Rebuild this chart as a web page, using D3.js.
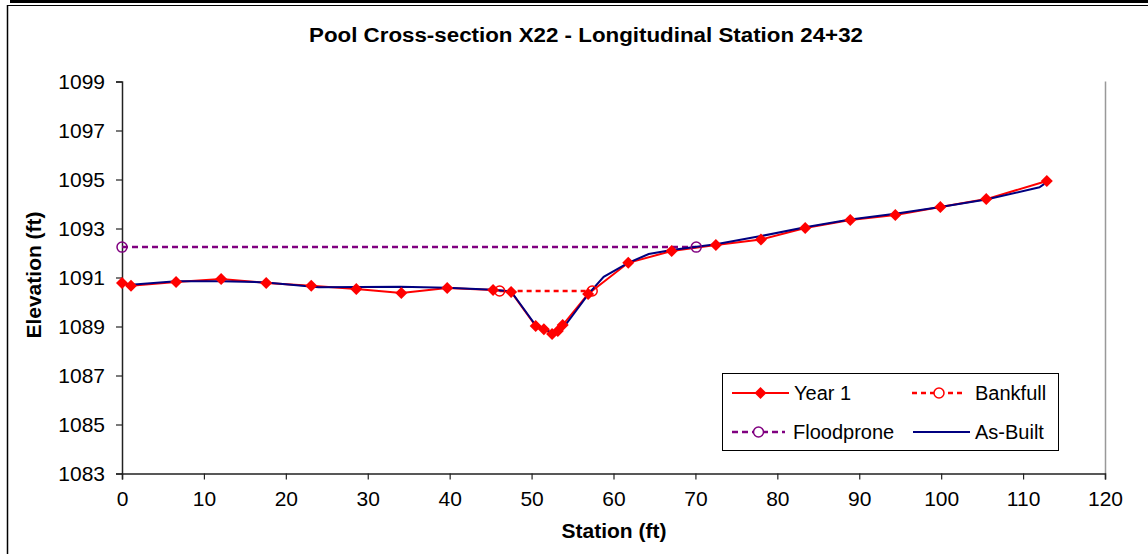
<!DOCTYPE html>
<html>
<head>
<meta charset="utf-8">
<script src="https://cdn.jsdelivr.net/npm/d3@7/dist/d3.min.js"></script>
<style>
  html, body { margin: 0; padding: 0; background: #fff; }
  svg { display: block; font-family: "Liberation Sans", Arial, sans-serif; }
</style>
</head>
<body>
<svg id="chart" width="1148" height="554"></svg>
<script>
// ---- data ----
const titleText = "Pool Cross-section X22 - Longitudinal Station 24+32";
const xTitle = "Station (ft)";
const yTitle = "Elevation (ft)";
const xTicks = [0, 10, 20, 30, 40, 50, 60, 70, 80, 90, 100, 110, 120];
const yTicks = [1083, 1085, 1087, 1089, 1091, 1093, 1095, 1097, 1099];

const year1Station = [0, 1.1, 6.6, 12.1, 17.6, 23.1, 28.6, 34.1, 39.7, 45.3, 47.5, 50.5, 51.5, 52.5, 53.2, 53.8, 56.9, 61.8, 67.1, 72.5, 78.0, 83.4, 88.9, 94.4, 99.9, 105.5, 112.9];
const year1Elev = [1090.78, 1090.66, 1090.82, 1090.94, 1090.78, 1090.66, 1090.53, 1090.37, 1090.57, 1090.49, 1090.41, 1089.02, 1088.89, 1088.69, 1088.82, 1089.06, 1090.33, 1091.6, 1092.08, 1092.33, 1092.55, 1093.02, 1093.35, 1093.55, 1093.88, 1094.2, 1094.94];

const asBuiltStation = [0, 1.1, 6.6, 12.1, 17.6, 24.0, 34.0, 39.7, 45.3, 47.5, 50.5, 52.5, 54.0, 57.0, 58.8, 61.8, 64.3, 67.1, 72.5, 78.0, 83.4, 88.9, 94.4, 99.9, 105.5, 112.0, 112.6];
const asBuiltElev = [1090.78, 1090.7, 1090.85, 1090.85, 1090.8, 1090.6, 1090.62, 1090.58, 1090.5, 1090.43, 1089.05, 1088.75, 1089.0, 1090.35, 1091.03, 1091.6, 1091.96, 1092.12, 1092.36, 1092.69, 1093.05, 1093.37, 1093.6, 1093.88, 1094.18, 1094.68, 1094.82];

const bankfullStation = [46.1, 57.4];
const bankfullElev = [1090.45, 1090.45];

const floodproneStation = [0, 70.1];
const floodproneElev = [1092.24, 1092.24];

const legendLabels = ["Year 1", "Bankfull", "Floodprone", "As-Built"];

// ---- colours ----
const RED = "#FF0000", NAVY = "#000080", PURPLE = "#800080";

const svg = d3.select("#chart");
const x = d3.scaleLinear().domain([0, 120]).range([122, 1105]);
const y = d3.scaleLinear().domain([1083, 1099]).range([473.5, 81.5]);

// outer frame
svg.append("rect").attr("x", 10).attr("y", 0).attr("width", 1138).attr("height", 3).attr("fill", "#000");
svg.append("line").attr("x1", 7).attr("x2", 1148).attr("y1", 5.5).attr("y2", 5.5).attr("stroke", "#000").attr("stroke-width", 1.2);
svg.append("line").attr("x1", 7.5).attr("x2", 7.5).attr("y1", 5).attr("y2", 554).attr("stroke", "#000").attr("stroke-width", 1.5);

// plot area right border
svg.append("line").attr("x1", 1105.5).attr("x2", 1105.5).attr("y1", y(1099)).attr("y2", y(1083))
  .attr("stroke", "#999").attr("stroke-width", 1.5);

// title
svg.append("text").attr("x", 586).attr("y", 42).attr("text-anchor", "middle")
  .attr("font-size", 20).attr("font-weight", "bold").attr("textLength", 554).attr("lengthAdjust", "spacingAndGlyphs")
  .text(titleText);

// axes
const yAxis = d3.axisLeft(y).tickValues(yTicks).tickSize(6).tickPadding(11).tickFormat(d3.format("d"));
const gy = svg.append("g").attr("transform", `translate(${x(0)},0)`).call(yAxis);
const xAxis = d3.axisBottom(x).tickValues(xTicks).tickSize(6).tickPadding(12).tickFormat(d3.format("d"));
const gx = svg.append("g").attr("transform", `translate(0,${y(1083)})`).call(xAxis);
[gy, gx].forEach(g => {
  g.select(".domain").attr("stroke", "#222").attr("stroke-width", 1.5);
  g.selectAll(".tick line").attr("stroke", "#222").attr("stroke-width", 1.2);
  g.selectAll("text").attr("font-size", 21).attr("fill", "#000").attr("font-family", "'Liberation Sans', Arial, sans-serif");
});

// axis titles
svg.append("text").attr("x", 614).attr("y", 538).attr("text-anchor", "middle")
  .attr("font-size", 21).attr("font-weight", "bold").text(xTitle);
svg.append("text").attr("transform", "translate(41,275) rotate(-90)").attr("text-anchor", "middle")
  .attr("font-size", 21).attr("font-weight", "bold").text(yTitle);

// series
const zip = (a, b) => a.map((v, i) => [v, b[i]]);
const line = d3.line().x(d => x(d[0])).y(d => y(d[1]));
const year1 = zip(year1Station, year1Elev);
const asBuilt = zip(asBuiltStation, asBuiltElev);
const bankfull = zip(bankfullStation, bankfullElev);
const flood = zip(floodproneStation, floodproneElev);

svg.append("path").datum(year1).attr("d", line).attr("fill", "none").attr("stroke", RED).attr("stroke-width", 2);
svg.append("path").datum(bankfull).attr("d", line).attr("fill", "none").attr("stroke", RED).attr("stroke-width", 2.5).attr("stroke-dasharray", "5,4");
svg.append("path").datum(flood).attr("d", line).attr("fill", "none").attr("stroke", PURPLE).attr("stroke-width", 2.5).attr("stroke-dasharray", "6,4");
svg.append("path").datum(asBuilt).attr("d", line).attr("fill", "none").attr("stroke", NAVY).attr("stroke-width", 2);

const diamond = (cx, cy, r) => `M${cx},${cy - r}L${cx + r},${cy}L${cx},${cy + r}L${cx - r},${cy}Z`;
svg.append("g").selectAll("path").data(year1).join("path")
  .attr("d", d => diamond(x(d[0]), y(d[1]), 6)).attr("fill", RED);
svg.append("g").selectAll("circle").data(bankfull).join("circle")
  .attr("cx", d => x(d[0])).attr("cy", d => y(d[1])).attr("r", 5)
  .attr("fill", "none").attr("stroke", RED).attr("stroke-width", 1.5);
svg.append("g").selectAll("circle").data(flood).join("circle")
  .attr("cx", d => x(d[0])).attr("cy", d => y(d[1])).attr("r", 5)
  .attr("fill", "none").attr("stroke", PURPLE).attr("stroke-width", 1.5);

// legend
const lg = svg.append("g");
lg.append("rect").attr("x", 722.5).attr("y", 373.5).attr("width", 336).attr("height", 77)
  .attr("fill", "#fff").attr("stroke", "#000").attr("stroke-width", 1);
const items = [
  {label: legendLabels[0], x0: 732, x1: 789, y: 393, color: RED, dash: null, marker: "diamond", tx: 794},
  {label: legendLabels[1], x0: 912, x1: 966, y: 393, color: RED, dash: "5,4", marker: "circle", tx: 975},
  {label: legendLabels[2], x0: 732, x1: 785, y: 432, color: PURPLE, dash: "6,4", marker: "circle", tx: 793},
  {label: legendLabels[3], x0: 913, x1: 970, y: 432, color: NAVY, dash: null, marker: null, tx: 975}
];
items.forEach(it => {
  const ln = lg.append("line").attr("x1", it.x0).attr("x2", it.x1).attr("y1", it.y).attr("y2", it.y)
    .attr("stroke", it.color).attr("stroke-width", it.dash ? 2.5 : 2);
  if (it.dash) ln.attr("stroke-dasharray", it.dash);
  const cx = (it.x0 + it.x1) / 2;
  if (it.marker === "diamond") lg.append("path").attr("d", diamond(cx, it.y, 6)).attr("fill", it.color);
  if (it.marker === "circle") lg.append("circle").attr("cx", cx).attr("cy", it.y).attr("r", 5)
    .attr("fill", "#fff").attr("stroke", it.color).attr("stroke-width", 1.5);
  lg.append("text").attr("x", it.tx).attr("y", it.y + 7).attr("font-size", 20).text(it.label);
});
</script>
</body>
</html>
